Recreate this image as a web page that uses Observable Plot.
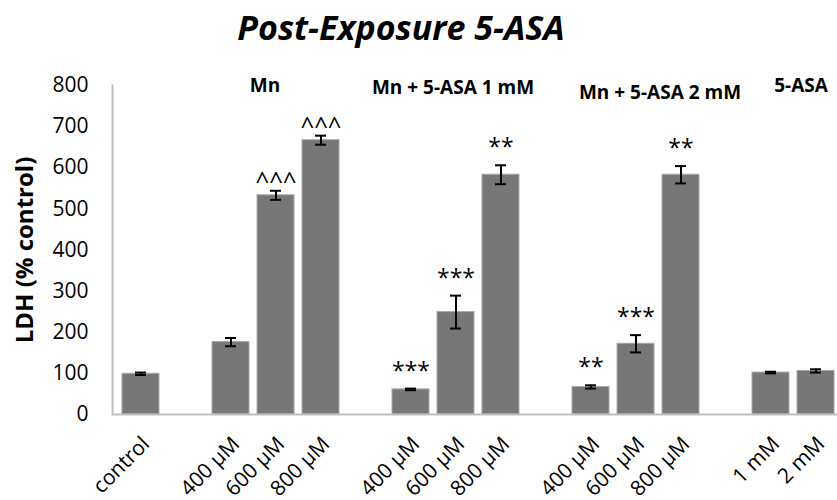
<!DOCTYPE html>
<html>
<head>
<meta charset="utf-8">
<script src="https://cdn.jsdelivr.net/npm/d3@7"></script>
<script src="https://cdn.jsdelivr.net/npm/@observablehq/plot@0.6"></script>
<style>
  html, body { margin: 0; padding: 0; background: #fff; overflow: hidden; }
  #chart svg { overflow: visible; }
</style>
</head>
<body>
<div id="chart"></div>
<script>
// ---- data ----
const categories = ["control", "Mn 400", "Mn 600", "Mn 800",
  "Mn+1mM 400", "Mn+1mM 600", "Mn+1mM 800",
  "Mn+2mM 400", "Mn+2mM 600", "Mn+2mM 800",
  "5-ASA 1mM", "5-ASA 2mM"];
const tickLabels = ["control", "400 µM", "600 µM", "800 µM",
  "400 µM", "600 µM", "800 µM",
  "400 µM", "600 µM", "800 µM",
  "1 mM", "2 mM"];
const values = [99, 176, 533, 667, 61, 249, 583, 67, 172, 583, 102, 106];
const errors = [3, 10, 11, 11, 2, 40, 23, 4, 21, 21, 2, 4];
const stars = ["", "", "", "", "***", "***", "**", "**", "***", "**", "", ""];
const carets = ["", "", "^^^", "^^^", "", "", "", "", "", "", "", ""];
const gapsAfter = ["control", "Mn 800", "Mn+1mM 800", "Mn+2mM 800"];
const groupLabels = ["Mn", "Mn + 5-ASA 1 mM", "Mn + 5-ASA 2 mM", "5-ASA"];
const groupAt = ["Mn 600", "Mn+1mM 600", "Mn+2mM 600", "5-ASA 1mM"];
const groupY = [800, 793, 783, 798];
const groupShift = [-11, -3, 24, 30];
const yTicks = [0, 100, 200, 300, 400, 500, 600, 700, 800];
const title = "Post-Exposure 5-ASA";
const yLabel = "LDH (% control)";

// ---- build ----
const domain = [];
categories.forEach(c => { domain.push(c); if (gapsAfter.includes(c)) domain.push("gap:" + c); });
const data = categories.map((c, i) => ({
  cat: c, label: tickLabels[i], value: values[i], err: errors[i],
  lo: values[i] - errors[i], hi: values[i] + errors[i],
  star: stars[i],
  caret: carets[i]
}));
const labelOf = new Map(categories.map((c, i) => [c, tickLabels[i]]));
const FONT = "'Open Sans', sans-serif";

const chart = Plot.plot({
  width: 837,
  height: 500,
  marginTop: 85,
  marginBottom: 86,
  marginLeft: 112,
  marginRight: 0,
  style: { fontFamily: FONT, color: "#000", background: "#fff" },
  x: { type: "band", domain, range: [112, 844], paddingInner: 0.17, paddingOuter: 0.085, axis: null },
  y: { domain: [0, 800], axis: null },
  marks: [
    Plot.barY(data, { x: "cat", y: "value", fill: "#777777", stroke: "#a8a8a8", strokeWidth: 1 }),
    Plot.ruleX(data, { x: "cat", y1: "lo", y2: "hi", stroke: "#000", strokeWidth: 2 }),
    Plot.tickY(data, { x: "cat", y: "lo", stroke: "#000", strokeWidth: 2, insetLeft: 13, insetRight: 13 }),
    Plot.tickY(data, { x: "cat", y: "hi", stroke: "#000", strokeWidth: 2, insetLeft: 13, insetRight: 13 }),
    Plot.text(data, { x: "cat", y: "hi", text: "star", dy: -10, lineAnchor: "bottom", fontSize: 23, fill: "#000" }),
    Plot.text(data, { x: "cat", y: "hi", text: "caret", dy: -2, lineAnchor: "bottom", fontSize: 24, fill: "#000" }),
    Plot.ruleY([0], { stroke: "#bfbfbf", strokeWidth: 2 }),
    Plot.frame({ anchor: "left", stroke: "#bfbfbf", strokeWidth: 2 }),
    Plot.axisY({ ticks: yTicks, tickSize: 0, tickPadding: 24, fontSize: 21, label: null }),
    Plot.axisX({ ticks: categories, tickFormat: d => labelOf.get(d), tickRotate: -45, tickSize: 0, tickPadding: 26, dx: 5, fontSize: 21, label: null }),
    ...groupLabels.map((g, i) => Plot.text([g], {
      x: () => groupAt[i], y: () => groupY[i], text: d => d, dx: groupShift[i],
      fontSize: 19, fontWeight: "bold", fill: "#000"
    })),
    Plot.text([yLabel], { frameAnchor: "left", text: d => d, rotate: -90, textAnchor: "middle", lineAnchor: "middle", dx: -87, fontSize: 24, fontWeight: "bold", fill: "#000" }),
    Plot.text([title], { frameAnchor: "top", text: d => d, x: () => "Mn+1mM 400", dx: -10, dy: -56, lineAnchor: "middle", fontSize: 34, fontWeight: "bold", fontStyle: "italic", fill: "#000" })
  ]
});
document.getElementById("chart").appendChild(chart);
</script>
</body>
</html>
